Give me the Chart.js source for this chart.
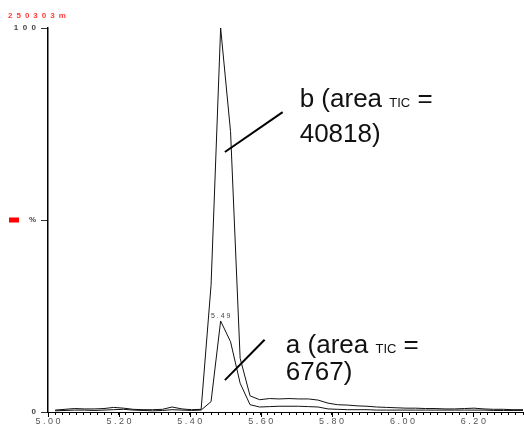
<!DOCTYPE html>
<html>
<head>
<meta charset="utf-8">
<script src="https://cdn.jsdelivr.net/npm/chart.js@4/dist/chart.umd.min.js"></script>
<style>
  html, body { margin: 0; padding: 0; background: #fff; }
  #wrap { width: 524px; height: 424px; }
</style>
</head>
<body>
<div id="wrap"><canvas id="tic" width="524" height="424"></canvas></div>
<script>
// Retention time (min) of each scan
const times = [
  5.020, 5.048, 5.075, 5.103, 5.130, 5.158, 5.185, 5.213, 5.240, 5.268,
  5.295, 5.323, 5.350, 5.378, 5.405, 5.432, 5.460, 5.487, 5.515, 5.542,
  5.570, 5.597, 5.625, 5.652, 5.680, 5.707, 5.735, 5.762, 5.790, 5.817,
  5.845, 5.872, 5.900, 5.927, 5.955, 5.982, 6.010, 6.037, 6.065, 6.092,
  6.120, 6.147, 6.175, 6.202, 6.230, 6.257, 6.285, 6.312, 6.340
];
// Relative intensity (%) of trace b
const traceB = [
  0.5, 0.7, 0.9, 0.8, 0.8, 0.9, 1.2, 1.0, 0.7, 0.6,
  0.6, 0.7, 1.3, 0.8, 0.6, 0.7, 33, 100, 73, 14,
  4.2, 3.2, 3.5, 3.4, 3.5, 3.4, 3.4, 3.1, 2.3, 1.9,
  1.8, 1.6, 1.5, 1.3, 1.2, 1.1, 1.0, 1.0, 0.9, 0.9,
  0.8, 0.8, 0.9, 1.0, 0.8, 0.7, 0.7, 0.6, 0.6
];
// Relative intensity (%) of trace a
const traceA = [
  0.3, 0.4, 0.5, 0.5, 0.4, 0.5, 0.6, 0.7, 0.5, 0.4,
  0.3, 0.4, 0.6, 0.5, 0.4, 0.5, 2.7, 23.7, 18.3, 7.5,
  1.9, 1.3, 1.4, 1.5, 1.5, 1.5, 1.4, 1.3, 0.8, 0.7,
  0.6, 0.6, 0.6, 0.5, 0.5, 0.5, 0.5, 0.5, 0.5, 0.5,
  0.5, 0.5, 0.5, 0.5, 0.5, 0.4, 0.4, 0.4, 0.4
];
// Integrated TIC areas
const areaA = 6767;
const areaB = 40818;
// Axis labelling
const xLabelValues = [5.0, 5.2, 5.4, 5.6, 5.8, 6.0, 6.2];
const yTickLabels = { 0: '0', 50: '%', 100: '1  0  0' };
const sampleName = '250303m';

const spaced = s => s.split('').join(' ');

// Callout texts and leader lines, placed in data units (min, %)
const callouts = [
  { name: 'b', area: areaB, t: 5.710, v1: 79.4, v2: 70.3, line: [[5.499, 67.7], [5.662, 78.1]] },
  { name: 'a', area: areaA, t: 5.671, v1: 15.4, v2: 8.3,  line: [[5.499, 8.3],  [5.611, 18.8]] }
];

const decorations = {
  id: 'decorations',
  afterDraw(chart) {
    const { ctx, scales: { x, y }, chartArea } = chart;
    ctx.save();

    // longer tick marks under the labelled retention times
    ctx.strokeStyle = '#000';
    ctx.lineWidth = 1;
    xLabelValues.forEach(v => {
      const px = Math.round(x.getPixelForValue(v)) + 0.5;
      ctx.beginPath();
      ctx.moveTo(px, chartArea.bottom);
      ctx.lineTo(px, chartArea.bottom + 5);
      ctx.stroke();
    });

    // sample name
    ctx.fillStyle = '#ff3b3b';
    ctx.font = 'bold 8px "Liberation Sans"';
    ctx.textBaseline = 'alphabetic';
    ctx.textAlign = 'left';
    if ('letterSpacing' in ctx) ctx.letterSpacing = '4px';
    ctx.fillText(sampleName, 8, 18);
    if ('letterSpacing' in ctx) ctx.letterSpacing = '0px';

    // red swatch beside the % label
    const y50 = y.getPixelForValue(50);
    ctx.fillStyle = '#ff0000';
    ctx.fillRect(9, y50 - 2.5, 10, 5);

    // retention time of the apex of trace a
    let iMax = 0;
    traceA.forEach((v, i) => { if (v > traceA[iMax]) iMax = i; });
    ctx.fillStyle = '#444';
    ctx.font = '7px "Liberation Sans"';
    ctx.textAlign = 'center';
    ctx.fillText(spaced(times[iMax].toFixed(2)), x.getPixelForValue(times[iMax]),
                 y.getPixelForValue(traceA[iMax]) - 3);

    // callouts
    callouts.forEach(c => {
      ctx.strokeStyle = '#000';
      ctx.lineWidth = 2;
      ctx.beginPath();
      ctx.moveTo(x.getPixelForValue(c.line[0][0]), y.getPixelForValue(c.line[0][1]));
      ctx.lineTo(x.getPixelForValue(c.line[1][0]), y.getPixelForValue(c.line[1][1]));
      ctx.stroke();

      ctx.fillStyle = '#111';
      ctx.textAlign = 'left';
      let px = x.getPixelForValue(c.t);
      const py1 = y.getPixelForValue(c.v1);
      const parts = [[c.name + ' (area ', 26], ['TIC', 13], [' =', 26]];
      parts.forEach(([txt, size]) => {
        ctx.font = size + 'px "Liberation Sans"';
        ctx.fillText(txt, px, py1);
        px += ctx.measureText(txt).width;
      });
      ctx.font = '26px "Liberation Sans"';
      ctx.fillText(c.area + ')', x.getPixelForValue(c.t), y.getPixelForValue(c.v2));
    });

    ctx.restore();
  }
};

new Chart(document.getElementById('tic'), {
  type: 'line',
  data: {
    labels: times,
    datasets: [
      { label: 'a', data: times.map((t, i) => ({ x: t, y: traceA[i] })),
        borderColor: '#111', borderWidth: 1, pointRadius: 0, tension: 0, clip: 3 },
      { label: 'b', data: times.map((t, i) => ({ x: t, y: traceB[i] })),
        borderColor: '#111', borderWidth: 1, pointRadius: 0, tension: 0, clip: 3 }
    ]
  },
  options: {
    responsive: false,
    animation: false,
    devicePixelRatio: 1,
    layout: { padding: { top: 28, right: 0, left: 0, bottom: 0 } },
    plugins: { legend: { display: false }, tooltip: { enabled: false }, title: { display: false } },
    scales: {
      x: {
        type: 'linear',
        min: 5.0,
        max: 6.34,
        afterFit: s => { s.height = 12; },
        border: { display: true, color: '#000', width: 1 },
        grid: { display: true, drawOnChartArea: false, drawTicks: true, tickLength: 3, color: '#000' },
        ticks: {
          stepSize: 0.02,
          autoSkip: false,
          maxRotation: 0,
          minRotation: 0,
          padding: 1,
          color: '#555',
          font: { family: 'Liberation Sans', size: 9 },
          callback: v => {
            const hit = xLabelValues.find(l => Math.abs(l - v) < 1e-6);
            return hit === undefined ? '' : spaced(hit.toFixed(2));
          }
        }
      },
      y: {
        min: 0,
        max: 100,
        afterFit: s => { s.width = 48; },
        border: { display: true, color: '#000', width: 1.5 },
        grid: { display: true, drawOnChartArea: false, drawTicks: true, tickLength: 7, color: '#333' },
        ticks: {
          stepSize: 50,
          padding: 5,
          color: '#444',
          font: { family: 'Liberation Sans', size: 8, weight: 'bold' },
          callback: v => yTickLabels[v] ?? ''
        }
      }
    }
  },
  plugins: [decorations]
});
</script>
</body>
</html>
